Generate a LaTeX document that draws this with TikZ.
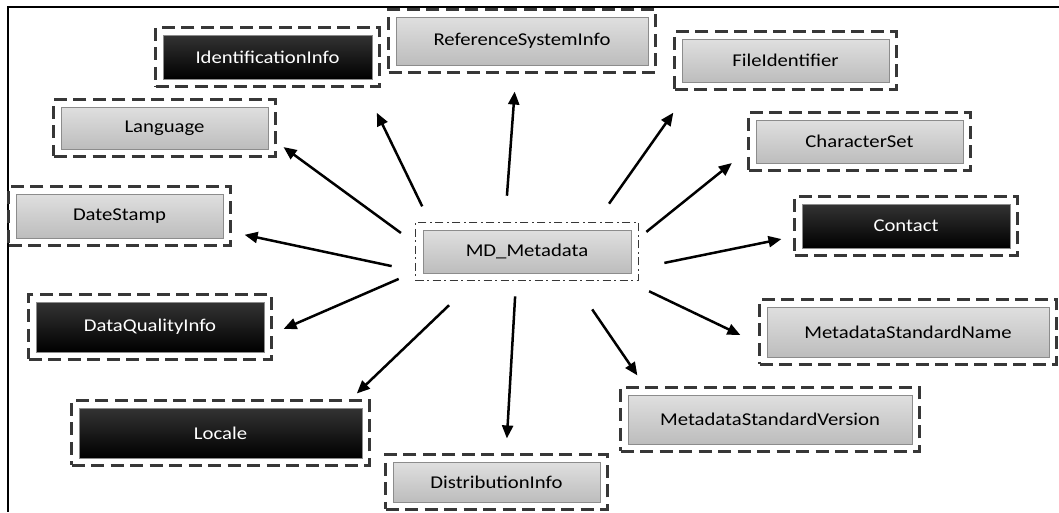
\documentclass[tikz,border=0pt]{standalone}
\usepackage{fontspec}
\setmainfont{Carlito}[FakeStretch=1.15]
\usepackage{tikz}
\usetikzlibrary{arrows.meta, fit}
\definecolor{framecolor}{RGB}{55,55,55}
\definecolor{edgecolor}{RGB}{140,140,140}

\tikzset{
    item/.style={rectangle, minimum width=207pt, minimum height=44pt, inner sep=0pt,
        draw=edgecolor, line width=0.9pt, font=\fontsize{18}{21}\selectfont},
    graybox/.style={item, top color=gray!25, bottom color=gray!52, text=black},
    blackbox/.style={item, top color=black!80, bottom color=black, text=white},
    frame/.style={rectangle, draw=framecolor, line width=2.3pt, dash pattern=on 13pt off 6.5pt, inner sep=7pt},
    mdframe/.style={frame, dash pattern=on 8pt off 3.5pt on 2pt off 3.5pt, line width=1.8pt},
    arr/.style={-{Triangle[length=13pt,width=11pt]}, line width=2.5pt}
}

\begin{document}
\begin{tikzpicture}[x=1pt, y=-1pt]
    \useasboundingbox (0,0) rectangle (1059,512);
    \draw[line width=2pt] (1059,7) -- (8,7) -- (8,512);

    \node[graybox, minimum width=208pt, minimum height=43pt] (md) at (527,251.5) {MD\_Metadata};
    \node[mdframe, fit=(md)] (mdf) {};

    \node[blackbox, minimum width=209pt] (id) at (267.5,57) {IdentificationInfo};
    \node[graybox, minimum width=252pt, minimum height=48pt] (ref) at (522,41) {ReferenceSystemInfo};
    \node[graybox, minimum height=43pt] (fi) at (785.5,60.5) {FileIdentifier};
    \node[graybox, minimum height=42pt] (lang) at (164.5,128) {Language};
    \node[graybox, minimum height=43pt] (cs) at (859.5,141.5) {CharacterSet};
    \node[graybox] (ds) at (119.5,216) {DateStamp};
    \node[blackbox, minimum width=208pt] (ct) at (906,226) {Contact};
    \node[blackbox, minimum width=228pt, minimum height=50pt] (dq) at (150,327) {DataQualityInfo};
    \node[blackbox, minimum width=283pt, minimum height=50pt] (lo) at (220.5,433) {Locale};
    \node[graybox, minimum width=282pt, minimum height=50pt] (sn) at (908,332) {MetadataStandardName};
    \node[graybox, minimum width=284pt, minimum height=49pt] (sv) at (770,419.5) {MetadataStandardVersion};
    \node[graybox, minimum height=40pt] (di) at (496.5,482) {DistributionInfo};

    \foreach \n in {id, ref, fi, lang, cs, ds, ct, dq, lo, sn, sv, di}
        \node[frame, fit=(\n)] (\n f) {};

    \draw[arr, shorten <=17pt, shorten >=28pt] ([xshift=15pt]mdf.north west) -- ([xshift=-16pt]idf.south east);
    \draw[arr, shorten <=26pt, shorten >=18pt] ([xshift=-22pt]mdf.north) -- ([xshift=-6pt]reff.south);
    \draw[arr, shorten <=22pt, shorten >=27pt] ([xshift=-43pt]mdf.north east) -- ([xshift=15.5pt]fif.south west);
    \draw[arr, shorten <=17pt, shorten >=8.6pt] ([yshift=8.5pt]mdf.west) -- ([yshift=-14pt]langf.east);
    \draw[arr, shorten <=23.5pt, shorten >=13.3pt] ([yshift=-19.5pt]mdf.west) -- ([yshift=-16pt]dsf.east);
    \draw[arr, shorten <=9pt, shorten >=20pt] ([yshift=14pt]mdf.east) -- ([yshift=-9pt]csf.west);
    \draw[arr, shorten <=25.5pt, shorten >=12.2pt] ([yshift=-16.5pt]mdf.east) -- ([yshift=-10.6pt]ctf.west);
    \draw[arr, shorten <=17.4pt, shorten >=12pt] ([yshift=-20.5pt]mdf.west) -- ([yshift=-6.7pt]dqf.east);
    \draw[arr, shorten <=34.5pt, shorten >=8.6pt] ([xshift=-53pt]mdf.south) -- ([xshift=-20pt]lof.north east);
    \draw[arr, shorten <=15pt, shorten >=15pt] ([xshift=-11pt]mdf.south) -- ([xshift=9.5pt]dif.north);
    \draw[arr, shorten <=34pt, shorten >=13.3pt] ([xshift=46pt]mdf.south) -- ([xshift=25.5pt]svf.north west);
    \draw[arr, shorten <=23pt, shorten >=20pt] ([xshift=-11pt]mdf.south east) -- ([yshift=-11.6pt]snf.west);
\end{tikzpicture}
\end{document}
